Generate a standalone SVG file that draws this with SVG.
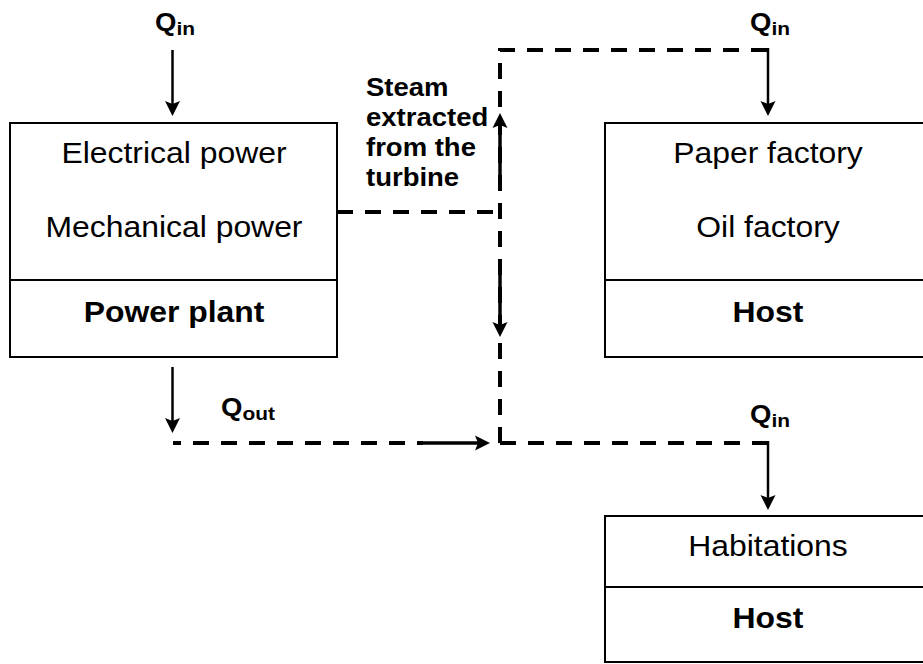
<svg xmlns="http://www.w3.org/2000/svg" width="923" height="664" viewBox="0 0 923 664">
  <style>
    .box { fill: #ffffff; stroke: #000000; stroke-width: 2; }
    .div { stroke: #000000; stroke-width: 2; fill: none; }
    .t { font-family: "Liberation Sans", Arial, sans-serif; font-size: 29px; fill: #000000; text-anchor: middle; }
    .b { font-family: "Liberation Sans", Arial, sans-serif; font-size: 29px; font-weight: bold; fill: #000000; text-anchor: middle; }
    .s { font-family: "Liberation Sans", Arial, sans-serif; font-size: 25px; font-weight: bold; fill: #000000; }
    .q { font-family: "Liberation Sans", Arial, sans-serif; font-size: 25px; font-weight: bold; fill: #000000; }
    .sub { font-size: 19px; }
    .dash { fill: none; stroke: #000000; stroke-width: 4; stroke-dasharray: 16 12; }
    .arr { fill: none; stroke: #000000; stroke-width: 2.5; marker-end: url(#ah); }
    .arr2 { fill: none; stroke: #000000; stroke-width: 3.5; marker-end: url(#ah); }
  </style>
  <defs>
    <marker id="ah" markerUnits="userSpaceOnUse" markerWidth="16" markerHeight="16" refX="3" refY="7.5" orient="auto" overflow="visible">
      <path d="M0,0 L15,7.5 L0,15 L3,7.5 Z" fill="#000000"/>
    </marker>
  </defs>
  <rect width="923" height="664" fill="#ffffff"/>

  <g id="connectors">
    <path class="dash" d="M337,212 H500"/>
    <path class="dash" d="M500,443 V50 H768"/>
    <path class="dash" d="M173,443 H423" stroke-dashoffset="8"/>
    <path class="dash" d="M500,443 H768"/>
    <path class="arr" d="M172.5,50 V104"/>
    <path class="arr" d="M768,48 V104"/>
    <path class="arr2" d="M500,183 V125"/>
    <path class="arr2" d="M500,260 V325"/>
    <path class="arr" d="M172.5,367 V421"/>
    <path class="arr2" d="M421,443 H478"/>
    <path class="arr" d="M768,441 V498"/>
  </g>

  <g id="power-plant">
    <rect class="box" x="10" y="123" width="327" height="234"/>
    <line class="div" x1="10" y1="280" x2="337" y2="280"/>
    <text class="t" transform="translate(174,163) scale(1.1,1)">Electrical power</text>
    <text class="t" transform="translate(174,237) scale(1.1,1)">Mechanical power</text>
    <text class="b" transform="translate(174,322) scale(1.1,1)">Power plant</text>
  </g>

  <g id="host-factory">
    <rect class="box" x="605" y="123" width="326" height="234"/>
    <line class="div" x1="605" y1="280" x2="931" y2="280"/>
    <text class="t" transform="translate(768,163) scale(1.1,1)">Paper factory</text>
    <text class="t" transform="translate(768,237) scale(1.1,1)">Oil factory</text>
    <text class="b" transform="translate(768,322) scale(1.1,1)">Host</text>
  </g>

  <g id="host-habitations">
    <rect class="box" x="605" y="516" width="326" height="146"/>
    <line class="div" x1="605" y1="587" x2="931" y2="587"/>
    <text class="t" transform="translate(768,556) scale(1.1,1)">Habitations</text>
    <text class="b" transform="translate(768,628) scale(1.1,1)">Host</text>
  </g>

  <g id="labels">
    <text class="q" transform="translate(155,31) scale(1.1,1)">Q<tspan class="sub" dy="4">in</tspan></text>
    <text class="q" transform="translate(750,31) scale(1.1,1)">Q<tspan class="sub" dy="4">in</tspan></text>
    <text class="q" transform="translate(750,423) scale(1.1,1)">Q<tspan class="sub" dy="4">in</tspan></text>
    <text class="q" transform="translate(221,416) scale(1.1,1)">Q<tspan class="sub" dy="4">out</tspan></text>
    <g id="steam-label">
      <text class="s" transform="translate(366,95.5) scale(1.1,1)">Steam</text>
      <text class="s" transform="translate(366,126) scale(1.1,1)">extracted</text>
      <text class="s" transform="translate(366,156) scale(1.1,1)">from the</text>
      <text class="s" transform="translate(366,186) scale(1.1,1)">turbine</text>
    </g>
  </g>
</svg>
